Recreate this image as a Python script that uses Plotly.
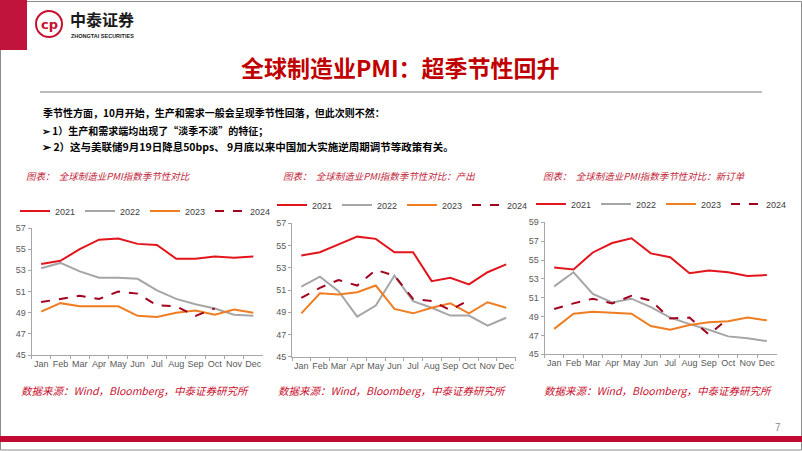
import plotly.graph_objects as go

W, H = 802, 451

months = ["Jan", "Feb", "Mar", "Apr", "May", "Jun", "Jul", "Aug", "Sep", "Oct", "Nov", "Dec"]
years = ["2021", "2022", "2023", "2024"]

# Global manufacturing PMI (headline)
pmi_2021 = [53.6, 53.9, 55.0, 55.9, 56.0, 55.5, 55.4, 54.1, 54.1, 54.3, 54.2, 54.3]
pmi_2022 = [53.2, 53.7, 52.9, 52.3, 52.3, 52.2, 51.1, 50.3, 49.8, 49.4, 48.8, 48.7]
pmi_2023 = [49.1, 49.9, 49.6, 49.6, 49.6, 48.7, 48.6, 49.0, 49.2, 48.8, 49.3, 49.0]
pmi_2024 = [50.0, 50.3, 50.6, 50.3, 51.0, 50.8, 49.7, 49.6, 48.7, 49.4]

# Output sub-index
out_2021 = [54.1, 54.4, 55.1, 55.8, 55.6, 54.4, 54.4, 51.8, 52.1, 51.5, 52.6, 53.3]
out_2022 = [51.3, 52.2, 50.9, 48.6, 49.6, 52.3, 50.0, 49.4, 48.7, 48.7, 47.8, 48.5]
out_2023 = [48.9, 50.7, 50.6, 50.8, 51.4, 49.3, 48.9, 49.4, 49.8, 48.9, 49.9, 49.4]
out_2024 = [50.3, 51.2, 51.9, 51.4, 52.8, 52.3, 50.2, 50.0, 49.2, 50.1]

# New orders sub-index
no_2021 = [54.2, 54.0, 55.8, 56.8, 57.3, 55.7, 55.3, 53.6, 53.9, 53.7, 53.3, 53.4]
no_2022 = [52.2, 53.7, 51.4, 50.5, 50.9, 50.0, 48.9, 48.2, 47.6, 46.9, 46.7, 46.4]
no_2023 = [47.7, 49.3, 49.5, 49.4, 49.3, 48.0, 47.6, 48.1, 48.4, 48.5, 48.9, 48.6]
no_2024 = [49.8, 50.4, 50.9, 50.4, 51.2, 50.7, 48.8, 48.9, 47.1, 48.8]

yticks_a = [45, 47, 49, 51, 53, 55, 57]
yticks_b = [45, 47, 49, 51, 53, 55, 57, 59]

chart_titles = ["图表：  全球制造业PMI指数季节性对比",
                "图表：  全球制造业PMI指数季节性对比：产出",
                "图表：  全球制造业PMI指数季节性对比：新订单"]
source_text = "数据来源：Wind，Bloomberg，中泰证券研究所"

colors = {"2021": "#e3151c", "2022": "#a6a6a6", "2023": "#ef7d22", "2024": "#a3001e"}
dashes = {"2021": "solid", "2022": "solid", "2023": "solid", "2024": "dash"}


def px(x):
    return x / W


def py(y):
    return 1 - y / H


charts = [
    dict(data=[pmi_2021, pmi_2022, pmi_2023, pmi_2024], xd=(31.5, 263), yd=(228, 355),
         yr=(45, 57), ticks=yticks_a, leg=(145, 211), title=(24, chart_titles[0]), src=19),
    dict(data=[out_2021, out_2022, out_2023, out_2024], xd=(292, 515.5), yd=(223.3, 356.7),
         yr=(45, 57), ticks=yticks_a, leg=(402, 205), title=(281, chart_titles[1]), src=276),
    dict(data=[no_2021, no_2022, no_2023, no_2024], xd=(544.5, 776.5), yd=(222.3, 354.3),
         yr=(45, 59), ticks=yticks_b, leg=(661, 204), title=(541, chart_titles[2]), src=542),
]

fig = go.Figure()
layout = dict(
    width=W, height=H, margin=dict(l=0, r=0, t=0, b=0, pad=0, autoexpand=False),
    paper_bgcolor="white", plot_bgcolor="white", showlegend=True,
    font=dict(family="Liberation Sans, Arial, sans-serif", size=9, color="#595959"),
)

tickfont = dict(family="Liberation Sans Narrow, Liberation Sans, Arial", size=9, color="#595959")
annotations = []
shapes = []

for i, c in enumerate(charts):
    n = "" if i == 0 else str(i + 1)
    leg = "legend" + n
    for yname, vals in zip(years, c["data"]):
        fig.add_trace(go.Scatter(
            x=months[:len(vals)], y=vals, mode="lines", name=yname,
            line=dict(color=colors[yname], width=2, dash=dashes[yname]),
            xaxis="x" + n, yaxis="y" + n, legend=leg,
            hovertemplate="%{x}: %{y}<extra>" + yname + "</extra>",
        ))
    layout["xaxis" + n] = dict(
        domain=[px(c["xd"][0]), px(c["xd"][1])], anchor="y" + n,
        type="category", categoryorder="array", categoryarray=months,
        range=[-0.5, 11.5], showgrid=False, zeroline=False,
        showline=True, linecolor="#a6a6a6", linewidth=1,
        ticks="outside", ticklen=3, tickcolor="#a6a6a6", tickson="boundaries",
        tickfont=tickfont, tickangle=0, fixedrange=True,
    )
    layout["yaxis" + n] = dict(
        domain=[py(c["yd"][1]), py(c["yd"][0])], anchor="x" + n,
        range=list(c["yr"]), tickvals=c["ticks"], showgrid=False, zeroline=False,
        showline=True, linecolor="#a6a6a6", linewidth=1,
        ticks="outside", ticklen=3, tickcolor="#a6a6a6",
        tickfont=tickfont, fixedrange=True,
    )
    layout[leg] = dict(
        orientation="h", x=px(c["leg"][0]), xanchor="center", y=py(c["leg"][1]), yanchor="middle",
        bgcolor="rgba(0,0,0,0)", font=dict(family="Liberation Sans Narrow, Liberation Sans, Arial", size=9, color="#404040"),
        entrywidth=20, entrywidthmode="pixels", itemwidth=30, traceorder="normal",
        tracegroupgap=0,
    )
    annotations.append(dict(
        x=px(c["title"][0]), y=py(176), xref="paper", yref="paper", xanchor="left", yanchor="middle",
        text="<i>" + c["title"][1] + "</i>", showarrow=False,
        font=dict(family="Noto Sans CJK SC", size=9.5, color="#c0283c"),
    ))
    annotations.append(dict(
        x=px(c["src"]), y=py(390), xref="paper", yref="paper", xanchor="left", yanchor="middle",
        text="<i>" + source_text + "</i>", showarrow=False,
        font=dict(family="Noto Sans CJK SC", size=10.5, color="#c8102e"),
    ))

# Header / body text
annotations += [
    dict(x=px(400), y=py(67), xref="paper", yref="paper", xanchor="center", yanchor="middle",
         text="<b>全球制造业PMI：超季节性回升</b>", showarrow=False,
         font=dict(family="Noto Sans CJK SC", size=23, color="#c00000")),
    dict(x=px(41), y=py(113), xref="paper", yref="paper", xanchor="left", yanchor="middle",
         text="<b>季节性方面，10月开始，生产和需求一般会呈现季节性回落，但此次则不然：</b>", showarrow=False,
         font=dict(family="Noto Sans CJK SC", size=10, color="#000000")),
    dict(x=px(40), y=py(130), xref="paper", yref="paper", xanchor="left", yanchor="middle",
         text="<b>➢ 1）生产和需求端均出现了“淡季不淡”的特征；</b>", showarrow=False,
         font=dict(family="Noto Sans CJK SC", size=10, color="#000000")),
    dict(x=px(40), y=py(146), xref="paper", yref="paper", xanchor="left", yanchor="middle",
         text="<b>➢ 2）这与美联储9月19日降息50bps、 9月底以来中国加大实施逆周期调节等政策有关。</b>", showarrow=False,
         font=dict(family="Noto Sans CJK SC", size=10.5, color="#000000")),
    dict(x=px(68), y=py(19.5), xref="paper", yref="paper", xanchor="left", yanchor="middle",
         text="<b>中泰证券</b>", showarrow=False,
         font=dict(family="Noto Sans CJK SC", size=16, color="#1a1a1a")),
    dict(x=px(69), y=py(35.5), xref="paper", yref="paper", xanchor="left", yanchor="middle",
         text="<b>ZHONGTAI SECURITIES</b>", showarrow=False,
         font=dict(family="Liberation Sans", size=5.5, color="#1a1a1a")),
    dict(x=px(49), y=py(24), xref="paper", yref="paper", xanchor="center", yanchor="middle",
         text="<b>cp</b>", showarrow=False,
         font=dict(family="DejaVu Sans", size=13, color="#c8102e")),
    dict(x=px(778), y=py(427), xref="paper", yref="paper", xanchor="center", yanchor="middle",
         text="7", showarrow=False,
         font=dict(family="Liberation Sans", size=10, color="#8c8c8c")),
]

# Decorations (slide frame, header block, rules, logo ring, footer band)
shapes += [
    dict(type="rect", xref="paper", yref="paper", x0=px(0.5), x1=px(801.5), y0=py(450), y1=py(1.5),
         line=dict(color="#8c8c8c", width=1), fillcolor="rgba(0,0,0,0)", layer="below"),
    dict(type="rect", xref="paper", yref="paper", x0=0, x1=px(27), y0=py(50), y1=1,
         line=dict(width=0), fillcolor="#c0143c"),
    dict(type="line", xref="paper", yref="paper", x0=px(40), x1=px(762), y0=py(92), y1=py(92),
         line=dict(color="#a6a6a6", width=1.5)),
    dict(type="circle", xref="paper", yref="paper", x0=px(36), x1=px(62), y0=py(37), y1=py(11),
         line=dict(color="#c8102e", width=2), fillcolor="white"),
    dict(type="rect", xref="paper", yref="paper", x0=0, x1=1, y0=py(442), y1=py(436),
         line=dict(width=0), fillcolor="#c00a32"),
]

layout["annotations"] = annotations
layout["shapes"] = shapes
fig.update_layout(**layout)
fig.write_html("out.html", config={"displayModeBar": False},
               post_script="document.body.style.margin='0px';")
